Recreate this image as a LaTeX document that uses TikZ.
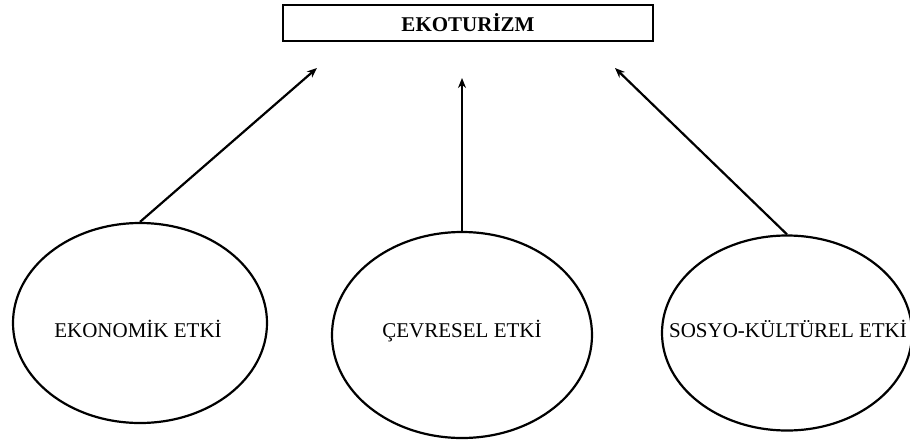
\documentclass[tikz,border=0pt]{standalone}
\usepackage{fontspec}
\setmainfont{Liberation Serif}
\usetikzlibrary{shapes.geometric,arrows.meta}
\begin{document}
\begin{tikzpicture}[x=1pt,y=-1pt,>={Stealth[length=10pt,width=8pt]},line width=2.2pt,
	etki/.style={draw,ellipse,inner sep=0pt},
	yazi/.style={inner sep=0pt,anchor=base,font=\fontsize{21}{25}\selectfont},
	baslik/.style={draw,rectangle,line width=2.6pt,minimum width=370pt,minimum height=36pt,font=\bfseries\fontsize{21}{25}\selectfont}]
	\useasboundingbox (0,0) rectangle (910,442);
	\node[baslik] (eko) at (468,23) {EKOTURİZM};
	\node[etki,minimum width=254pt,minimum height=200pt] (ekonomik) at (140,323) {};
	\node[etki,minimum width=260pt,minimum height=206pt] (cevresel) at (462,335) {};
	\node[etki,minimum width=250pt,minimum height=195pt] (sosyo) at (787,333) {};
	\node[yazi] (ekonomikY) at (138,337) {EKONOMİK ETKİ};
	\node[yazi] (cevreselY) at (462,337) {ÇEVRESEL ETKİ};
	\node[yazi] (sosyoY) at (788,337) {SOSYO-KÜLTÜREL ETKİ};
	\coordinate (ucA) at (317,68);
	\coordinate (ucB) at (462,78);
	\coordinate (ucC) at (615,68);
	\draw[->] (ekonomik.north)--(ucA);
	\draw[->] (cevresel.north)--(ucB);
	\draw[->] (sosyo.north)--(ucC);
\end{tikzpicture}
\end{document}
